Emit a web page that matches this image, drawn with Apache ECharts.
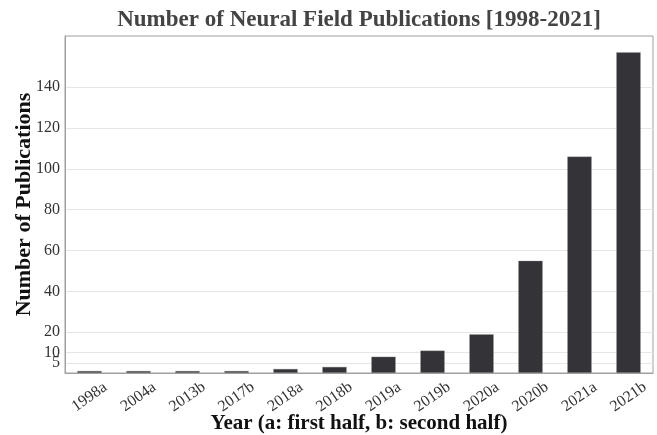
<!DOCTYPE html>
<html><head><meta charset="utf-8">
<script src="https://cdn.jsdelivr.net/npm/echarts@6/dist/echarts.min.js"></script>
<style>html,body{margin:0;padding:0;background:#fff}#c{width:657px;height:435px}</style>
</head><body><div id="c"></div>
<script>
const categories = ['1998a','2004a','2013b','2017b','2018a','2018b','2019a','2019b','2020a','2020b','2021a','2021b'];
const publications = [1,1,1,1,2,3,8,11,19,55,106,157];
const yTicks = [10,20,40,60,80,100,120,140];
const yTicksLow = [5];

const chart = echarts.init(document.getElementById('c'));
const serif = 'Liberation Serif';
const labelStyle = {hideOverlap: false, fontFamily: serif, fontSize: 16, color: '#333', margin: 5};
chart.setOption({
  animation: false,
  title: {
    text: 'Number of Neural Field Publications [1998-2021]',
    left: 354, top: 4, textAlign: 'center',
    textStyle: {fontFamily: serif, fontWeight: 'bold', fontSize: 23, color: '#444'}
  },
  grid: {left: 65, right: 4, top: 36, bottom: 62, outerBoundsMode: 'none', containLabel: false,
         show: true, borderColor: '#a0a0a0', borderWidth: 1, backgroundColor: 'transparent'},
  xAxis: {
    type: 'category', data: categories,
    name: 'Year (a: first half, b: second half)', nameLocation: 'middle', nameGap: 40, nameMoveOverlap: false,
    nameTextStyle: {fontFamily: serif, fontWeight: 'bold', fontSize: 21, color: '#111'},
    axisLine: {show: true, lineStyle: {color: '#a0a0a0'}},
    axisTick: {show: false},
    axisLabel: {rotate: 35, align: 'center', verticalAlign: 'middle', fontFamily: serif, fontSize: 16, color: '#333', margin: 24, interval: 0}
  },
  yAxis: [{
    type: 'value', min: 0, max: 165,
    name: 'Number of Publications', nameLocation: 'middle', nameGap: 30, nameMoveOverlap: false,
    nameTextStyle: {fontFamily: serif, fontWeight: 'bold', fontSize: 22, color: '#111'},
    axisLine: {show: true, lineStyle: {color: '#a0a0a0'}},
    axisTick: {show: false, customValues: yTicks},
    axisLabel: Object.assign({customValues: yTicks}, labelStyle),
    splitLine: {show: true, lineStyle: {color: '#e6e6e6', width: 1}}
  }, {
    type: 'value', min: 0, max: 165, position: 'left',
    axisLine: {show: false},
    axisTick: {show: false, customValues: yTicksLow},
    axisLabel: Object.assign({customValues: yTicksLow}, labelStyle),
    splitLine: {show: true, lineStyle: {color: '#e6e6e6', width: 1}}
  }],
  series: [{
    type: 'bar', data: publications, barWidth: '50%', yAxisIndex: 0,
    itemStyle: {color: '#333338', borderColor: 'rgba(160,160,160,0.7)', borderWidth: 0.5}
  }]
});
</script></body></html>
